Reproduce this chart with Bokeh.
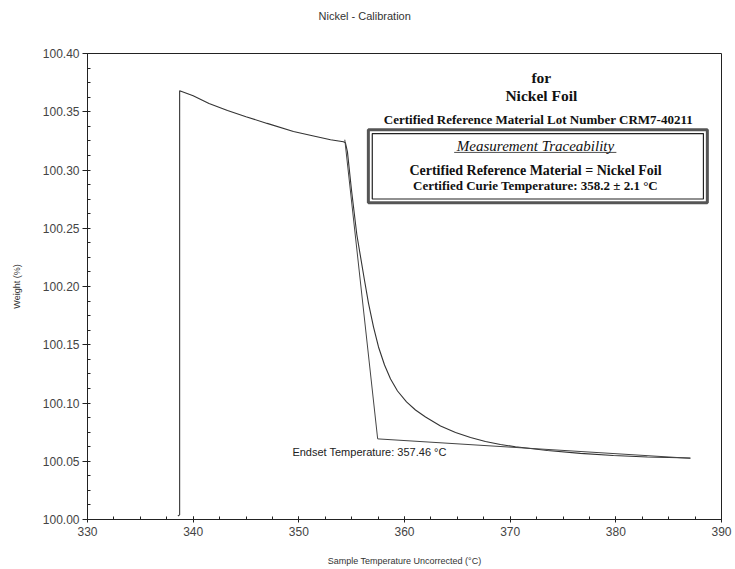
from bokeh.plotting import figure
from bokeh.models import (Label, BoxAnnotation, FixedTicker, Range1d, Title)
from bokeh.embed import file_html
from bokeh.resources import INLINE

# ---- data ----
curve_T = [338.55, 338.72, 338.72, 340.0, 341.5, 343.25, 345.0, 347.0, 349.49, 351.5,
           353.0, 354.22, 354.41, 354.60, 354.98, 355.49, 356.21, 356.59, 357.07, 357.54,
           358.11, 358.68, 359.34, 360.19, 361.04, 361.99, 363.41, 364.83, 366.25, 367.66,
           369.08, 370.50, 373.53, 376.65, 379.77, 382.99, 387.06]
curve_W = [100.003, 100.004, 100.368, 100.3637, 100.357, 100.351, 100.3457, 100.340, 100.333, 100.329,
           100.326, 100.3242, 100.3233, 100.3156, 100.283, 100.2444, 100.2056, 100.1858, 100.1652, 100.1481,
           100.1326, 100.1206, 100.1103, 100.1009, 100.0940, 100.0880, 100.0803, 100.0747, 100.0704, 100.0670,
           100.0644, 100.0624, 100.0592, 100.0568, 100.0549, 100.0536, 100.0528]
tangent_T = [354.35, 357.46]
tangent_W = [100.326, 100.0692]
baseline_T = [357.46, 387.05]
baseline_W = [100.0692, 100.0525]

x_ticks = [330, 340, 350, 360, 370, 380, 390]
y_ticks = [100.00, 100.05, 100.10, 100.15, 100.20, 100.25, 100.30, 100.35, 100.40]

title_text = "Nickel - Calibration"
x_label = "Sample Temperature Uncorrected (°C)"
y_label = "Weight (%)"
endset_text = "Endset Temperature: 357.46 °C"
endset_pos = (349.39, 100.0583)

p = figure(frame_width=634, frame_height=466, output_backend="svg", toolbar_location=None,
           x_range=Range1d(330, 390), y_range=Range1d(100.0, 100.4),
           min_border_left=87, min_border_right=14, min_border_top=53, min_border_bottom=50,
           background_fill_color="white", border_fill_color="white")
p.title = Title(text=title_text, align="left", offset=231, text_font="Liberation Sans",
                text_font_size="11px", text_font_style="normal", text_color="#333333",
                standoff=0)
# spacer between the title and the frame
p.add_layout(Title(text=" ", text_font_size="11px", standoff=18), "above")
p.xgrid.visible = False
p.ygrid.visible = False
p.outline_line_color = "#222222"
p.outline_line_width = 1

for ax in (p.xaxis[0], p.yaxis[0]):
    ax.axis_line_color = "#222222"
    ax.major_tick_line_color = "#222222"
    ax.minor_tick_line_color = "#222222"
    ax.major_label_text_font = "Liberation Sans"
    ax.major_label_text_font_size = "12px"
    ax.major_label_text_color = "#444444"
    ax.axis_label_text_font = "Liberation Sans"
    ax.axis_label_text_font_size = "9px"
    ax.axis_label_text_font_style = "normal"
    ax.axis_label_text_color = "#333333"

p.xaxis.ticker = FixedTicker(ticks=x_ticks, minor_ticks=[330 + 2.5 * i for i in range(25)])
p.yaxis.ticker = FixedTicker(ticks=y_ticks, minor_ticks=[100.0 + 0.0125 * i for i in range(33)])
p.xaxis.major_label_overrides = {t: str(t) for t in x_ticks}
p.yaxis.major_label_overrides = {t: f"{t:.2f}" for t in y_ticks}
p.xaxis.major_tick_in = 3
p.xaxis.major_tick_out = 3
p.xaxis.minor_tick_in = 3
p.xaxis.minor_tick_out = 0
p.yaxis.major_tick_in = 0
p.yaxis.major_tick_out = 5
p.yaxis.minor_tick_in = 3
p.yaxis.minor_tick_out = 0
p.xaxis.axis_label = x_label
p.yaxis.axis_label = y_label
p.xaxis.axis_label_standoff = 17
p.yaxis.axis_label_standoff = 18
p.xaxis.major_label_standoff = 4
p.yaxis.major_label_standoff = 3

p.line(curve_T, curve_W, line_color="#333333", line_width=1.1)
p.line(tangent_T, tangent_W, line_color="#444444", line_width=1)
p.line(baseline_T, baseline_W, line_color="#444444", line_width=1)

p.add_layout(Label(x=endset_pos[0], y=endset_pos[1], text=endset_text, text_font="Liberation Sans",
                   text_font_size="11px", text_color="#222222", text_baseline="middle", text_align="left"))

# ---- certificate annotation ----
serif = "Liberation Serif"
cert_lines = [
    ("for", 372.95, 100.379, "15.5px", "bold"),
    ("Nickel Foil", 372.95, 100.3636, "15.5px", "bold"),
    ("Certified Reference Material Lot Number CRM7-40211", 372.67, 100.343, "13px", "bold"),
    ("Measurement Traceability", 372.4, 100.3208, "15px", "italic"),
    ("Certified Reference Material = Nickel Foil", 372.4, 100.2993, "14px", "bold"),
    ("Certified Curie Temperature: 358.2 ± 2.1 °C", 372.4, 100.2864, "13px", "bold"),
]
for txt, x, y, fs, st in cert_lines:
    p.add_layout(Label(x=x, y=y, text=txt, text_font=serif, text_font_size=fs, text_font_style=st,
                       text_color="#111111", text_align="center", text_baseline="middle"))

box_outer = dict(left=356.58, right=388.66, top=100.3345, bottom=100.2719)
box_inner = dict(left=356.95, right=388.29, top=100.3313, bottom=100.2751)
p.add_layout(BoxAnnotation(**box_outer, fill_alpha=0, line_color="#555555", line_alpha=1, line_width=3))
p.add_layout(BoxAnnotation(**box_inner, fill_alpha=0, line_color="#222222", line_alpha=1, line_width=1.2))
underline_T = [364.7, 380.05]
underline_W = [100.3151, 100.3151]
p.line(underline_T, underline_W, line_color="#222222", line_width=0.8)

open("out.html", "w").write(file_html(p, INLINE))
